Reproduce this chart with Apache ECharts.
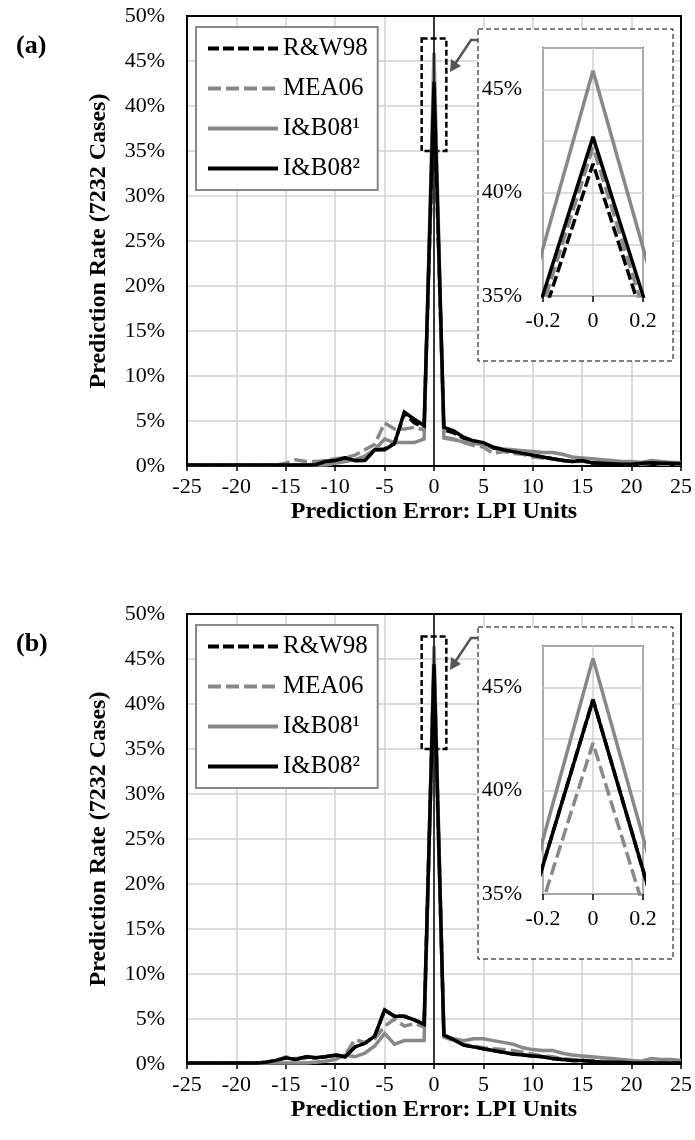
<!DOCTYPE html>
<html>
<head>
<meta charset="utf-8">
<title>Prediction error distribution</title>
<script src="https://cdn.jsdelivr.net/npm/echarts@6/dist/echarts.min.js"></script>
<style>
  html, body { margin: 0; padding: 0; background: #fff; }
  #chart { width: 695px; height: 1140px; }
</style>
</head>
<body>
<div id="chart"></div>
<script>
// prediction error, LPI units (one point per unit)
var errors = [-25, -24, -23, -22, -21, -20, -19, -18, -17, -16, -15, -14, -13, -12, -11, -10, -9, -8, -7, -6, -5, -4, -3, -2, -1,
  0, 1, 2, 3, 4, 5, 6, 7, 8, 9, 10, 11, 12, 13, 14, 15, 16, 17, 18, 19, 20, 21, 22, 23, 24, 25];

// panel (a), prediction rate in %
var rw98A = [0.1, 0.1, 0.1, 0.1, 0.1, 0.1, 0.1, 0.1, 0.1, 0.1, 0.1, 0.1, 0.1, 0.2, 0.5, 0.6, 0.9, 0.6, 0.6, 1.8, 1.9, 2.5, 5.9, 4.8, 4.3,
  41.4, 4.0, 3.7, 3.1, 2.7, 2.5, 2.0, 1.8, 1.6, 1.4, 1.2, 1.0, 0.8, 0.6, 0.5, 0.6, 0.3, 0.3, 0.25, 0.2, 0.2, 0.3, 0.3, 0.3, 0.3, 0.2];
var mea06A = [0.1, 0.1, 0.1, 0.1, 0.1, 0.1, 0.1, 0.1, 0.1, 0.1, 0.3, 0.7, 0.5, 0.5, 0.6, 0.8, 0.9, 1.2, 1.8, 2.4, 4.8, 4.1, 4.1, 4.3, 4.0,
  42.2, 3.2, 3.0, 2.6, 2.3, 2.1, 1.4, 1.6, 1.4, 1.3, 1.0, 0.9, 0.8, 0.6, 0.5, 0.5, 0.4, 0.3, 0.3, 0.3, 0.2, 0.2, 0.3, 0.2, 0.2, 0.2];
var ib1A = [0.1, 0.1, 0.1, 0.1, 0.1, 0.1, 0.1, 0.1, 0.1, 0.1, 0.1, 0.1, 0.1, 0.1, 0.1, 0.3, 0.5, 0.7, 1.1, 1.8, 3.0, 2.6, 2.6, 2.6, 3.0,
  45.9, 3.1, 2.9, 2.7, 2.5, 2.4, 2.1, 1.9, 1.8, 1.7, 1.6, 1.5, 1.5, 1.3, 1.0, 0.9, 0.8, 0.7, 0.6, 0.5, 0.5, 0.4, 0.6, 0.5, 0.4, 0.4];
var ib2A = [0.1, 0.1, 0.1, 0.1, 0.1, 0.1, 0.1, 0.1, 0.1, 0.1, 0.1, 0.1, 0.1, 0.15, 0.5, 0.6, 0.9, 0.6, 0.6, 1.8, 1.8, 2.5, 6.0, 5.2, 4.5,
  42.7, 4.3, 3.9, 3.2, 2.8, 2.6, 2.1, 1.8, 1.6, 1.4, 1.2, 1.0, 0.8, 0.65, 0.5, 0.6, 0.35, 0.3, 0.25, 0.2, 0.2, 0.3, 0.35, 0.3, 0.3, 0.25];

// panel (b), prediction rate in %
var rw98B = [0.1, 0.1, 0.1, 0.1, 0.1, 0.1, 0.1, 0.1, 0.2, 0.4, 0.7, 0.5, 0.8, 0.7, 0.8, 1.0, 0.8, 1.9, 2.3, 3.1, 6.0, 5.3, 5.3, 4.9, 4.4,
  44.4, 3.2, 2.7, 2.1, 1.9, 1.7, 1.5, 1.3, 1.1, 1.0, 0.9, 0.8, 0.6, 0.5, 0.4, 0.4, 0.3, 0.2, 0.2, 0.2, 0.1, 0.1, 0.1, 0.1, 0.1, 0.1];
var mea06B = [0.1, 0.1, 0.1, 0.1, 0.1, 0.1, 0.1, 0.1, 0.1, 0.3, 0.8, 0.6, 0.6, 0.7, 0.8, 0.9, 1.0, 2.7, 2.4, 2.8, 4.2, 5.0, 4.2, 4.5, 4.1,
  42.3, 3.0, 2.6, 2.2, 2.0, 1.8, 1.7, 1.6, 1.5, 1.3, 1.1, 0.9, 0.8, 0.6, 0.5, 0.4, 0.4, 0.3, 0.2, 0.2, 0.2, 0.2, 0.2, 0.2, 0.2, 0.2];
var ib1B = [0.1, 0.1, 0.1, 0.1, 0.1, 0.1, 0.1, 0.1, 0.1, 0.1, 0.1, 0.1, 0.1, 0.2, 0.3, 0.5, 1.0, 0.8, 1.2, 2.0, 3.4, 2.2, 2.6, 2.6, 2.6,
  46.4, 3.2, 2.8, 2.6, 2.8, 2.8, 2.6, 2.4, 2.2, 1.8, 1.6, 1.5, 1.5, 1.2, 1.0, 0.9, 0.8, 0.7, 0.6, 0.5, 0.4, 0.3, 0.6, 0.5, 0.5, 0.4];
var ib2B = [0.1, 0.1, 0.1, 0.1, 0.1, 0.1, 0.1, 0.1, 0.2, 0.4, 0.7, 0.5, 0.8, 0.7, 0.8, 1.0, 0.8, 1.9, 2.3, 3.1, 6.0, 5.3, 5.3, 4.9, 4.4,
  44.4, 3.2, 2.7, 2.1, 1.9, 1.7, 1.5, 1.3, 1.1, 1.0, 0.9, 0.8, 0.6, 0.5, 0.4, 0.4, 0.3, 0.2, 0.2, 0.2, 0.1, 0.1, 0.1, 0.1, 0.1, 0.1];

var names = ['R&W98', 'MEA06', 'I&B08\u00b9', 'I&B08\u00b2'];
var mainTicks = [-25, 25, 5];     // min, max, step of error axis
var rateTicks = [0, 50, 5];       // min, max, step of rate axis
var zoomErr = [-0.2, 0.2, 0.2];
var zoomRate = [35, 47, 2.5];

var FONT = 'Liberation Serif';
var lineLook = [
  { color: '#000', type: [11, 4] },
  { color: '#888', type: [13, 5] },
  { color: '#888', type: 'solid' },
  { color: '#000', type: 'solid' }
];
var panels = [
  { label: '(a)', top: 16, sets: [rw98A, mea06A, ib1A, ib2A] },
  { label: '(b)', top: 614, sets: [rw98B, mea06B, ib1B, ib2B] }
];

function pairs(vals) {
  return errors.map(function (x, i) { return [x, vals[i]]; });
}

var grid = [], xAxis = [], yAxis = [], series = [], legend = [], graphic = [];
var txt = { fontFamily: FONT, fontSize: 22, color: '#000' };
var gridLine = { show: true, lineStyle: { color: '#d0d0d0', width: 1.5 } };

panels.forEach(function (p, k) {
  var gm = 2 * k, gi = 2 * k + 1;
  grid.push({ left: 187, width: 496, top: p.top, height: 450, show: true, borderColor: '#000', borderWidth: 2, z: 1 });
  grid.push({ left: 543, width: 100, top: p.top + 32, height: 248, show: true, borderColor: '#000', borderWidth: 1.5,
    backgroundColor: '#fff', z: 3 });

  xAxis.push({
    gridIndex: gm, type: 'value', min: mainTicks[0], max: mainTicks[1], interval: mainTicks[2],
    name: 'Prediction Error: LPI Units', nameLocation: 'middle', nameGap: 34,
    nameTextStyle: { fontFamily: FONT, fontSize: 24, fontWeight: 'bold', color: '#000' },
    axisLine: { onZero: false, lineStyle: { color: '#000', width: 2 } },
    axisTick: { show: true, length: 5, lineStyle: { color: '#000', width: 1.5 } },
    axisLabel: Object.assign({ margin: 10, interval: 0, showMinLabel: true, showMaxLabel: true }, txt),
    splitLine: gridLine
  });
  xAxis.push({
    gridIndex: gi, type: 'value', min: zoomErr[0], max: zoomErr[1], interval: zoomErr[2], z: 3,
    axisLine: { show: false },
    axisTick: { show: true, length: 6, lineStyle: { color: '#000', width: 1.5 } },
    axisLabel: Object.assign({ margin: 14, showMinLabel: true, showMaxLabel: true }, txt),
    splitLine: gridLine
  });
  yAxis.push({
    gridIndex: gm, type: 'value', min: rateTicks[0], max: rateTicks[1], interval: rateTicks[2],
    name: 'Prediction Rate (7232 Cases)', nameLocation: 'middle', nameGap: 76, nameRotate: 90,
    nameTextStyle: { fontFamily: FONT, fontSize: 24, fontWeight: 'bold', color: '#000' },
    axisLine: { show: false }, axisTick: { show: false },
    axisLabel: Object.assign({ margin: 22, formatter: '{value}%' }, txt),
    splitLine: gridLine
  });
  yAxis.push({
    gridIndex: gi, type: 'value', min: zoomRate[0], max: zoomRate[1], interval: zoomRate[2], z: 3,
    axisLine: { show: false }, axisTick: { show: false },
    axisLabel: Object.assign({ margin: 21, formatter: function (v) { return v % 5 === 0 ? v + '%' : ''; } }, txt),
    splitLine: gridLine
  });

  p.sets.forEach(function (vals, s) {
    var main = {
      name: names[s], type: 'line', xAxisIndex: gm, yAxisIndex: gm, data: pairs(vals),
      symbol: 'none', z: 2,
      lineStyle: { color: lineLook[s].color, type: lineLook[s].type, width: 3.5, cap: 'butt', join: 'miter' },
      itemStyle: { color: lineLook[s].color }
    };
    if (s === 0) {
      main.markLine = { silent: true, symbol: 'none', label: { show: false },
        lineStyle: { color: '#000', width: 1.5, type: 'solid' }, data: [{ xAxis: 0 }] };
    }
    if (s === 3) {
      main.markArea = { silent: true, label: { show: false },
        itemStyle: { color: 'rgba(0,0,0,0)', borderColor: '#000', borderWidth: 2.5, borderType: [6, 3] },
        data: [[{ xAxis: -1.25, yAxis: 47.5 }, { xAxis: 1.25, yAxis: 35 }]] };
    }
    series.push(main);
    series.push({
      name: names[s], type: 'line', xAxisIndex: gi, yAxisIndex: gi, data: pairs(vals),
      symbol: 'none', z: 4, clip: true,
      lineStyle: { color: lineLook[s].color, type: lineLook[s].type, width: 3.5, cap: 'butt' },
      itemStyle: { color: lineLook[s].color }
    });
  });

  legend.push({
    orient: 'vertical', left: 196, top: p.top + 11, data: names, selectedMode: false,
    backgroundColor: '#fff', borderColor: '#888', borderWidth: 2, padding: [9, 10, 9, 10],
    itemWidth: 70, itemHeight: 14, itemGap: 15,
    itemStyle: { color: 'rgba(0,0,0,0)', borderColor: 'rgba(0,0,0,0)', borderWidth: 0 },
    lineStyle: { width: 4, type: 'inherit', cap: 'butt' },
    textStyle: { fontFamily: FONT, fontSize: 25, color: '#000' }
  });

  var t = p.top;
  graphic.push(
    { type: 'text', left: 16, top: t + 17, z: 5,
      style: { text: p.label, font: 'bold 26px "Liberation Serif"', fill: '#000' } },
    { type: 'rect', z: 1, shape: { x: 478, y: t + 13, width: 195, height: 332 },
      style: { fill: '#fff', stroke: '#000', lineWidth: 1, lineDash: [5, 3] } },
    { type: 'polyline', z: 5, shape: { points: [[478, t + 24], [471, t + 24], [455, t + 48]] },
      style: { stroke: '#555', lineWidth: 2.5, fill: null } },
    { type: 'polygon', z: 5, shape: { points: [[450, t + 56], [461, t + 50], [451, t + 43]] },
      style: { fill: '#555' } }
  );
});

var myChart = echarts.init(document.getElementById('chart'), null, { renderer: 'canvas' });
myChart.setOption({
  animation: false,
  backgroundColor: '#fff',
  textStyle: { fontFamily: FONT },
  grid: grid,
  xAxis: xAxis,
  yAxis: yAxis,
  legend: legend,
  graphic: graphic,
  series: series
});
</script>
</body>
</html>
